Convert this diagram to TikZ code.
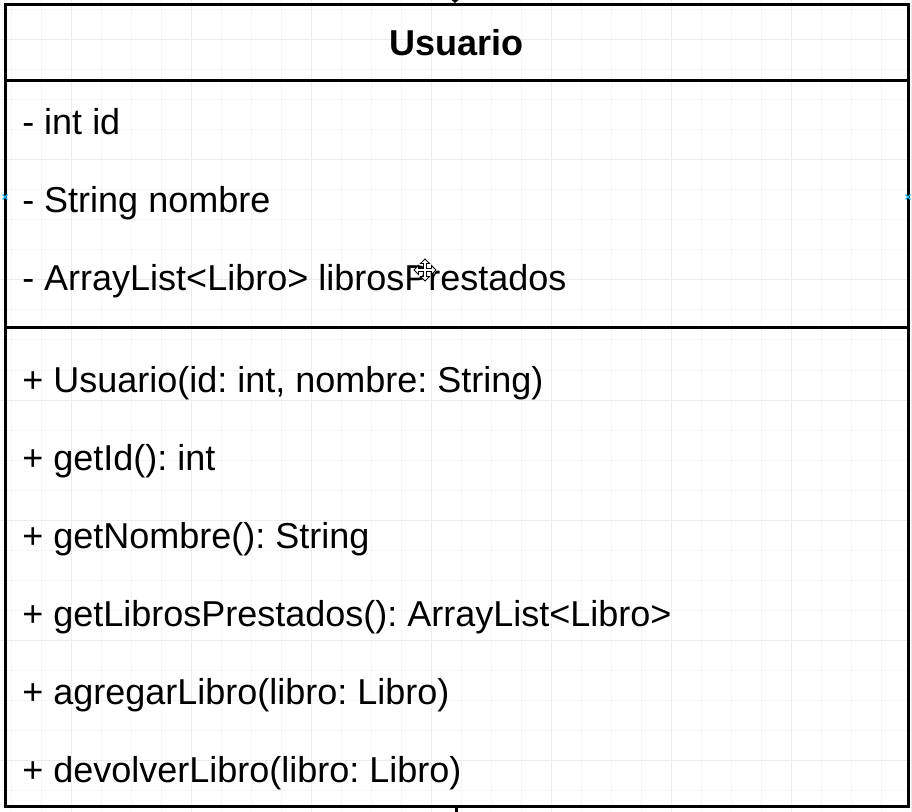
\documentclass[tikz,border=0pt]{standalone}
\usepackage{fontspec}
\setmainfont{Liberation Sans}
\frenchspacing
\begin{document}
\begin{tikzpicture}[x=0.75pt,y=-0.75pt,
  minorgrid/.style={draw=black!4,line width=0.75pt},
  majorgrid/.style={draw=black!8,line width=0.75pt},
  boxline/.style={draw=black,line width=2.25pt},
  member/.style={anchor=base west,inner sep=0pt,font=\fontsize{27}{32}\selectfont},
  title/.style={anchor=base,inner sep=0pt,font=\fontsize{27}{32}\selectfont\bfseries},
  pin/.style={draw={rgb,255:red,41;green,182;blue,242},line width=0.9pt}]
\useasboundingbox (0,0) rectangle (912,812);
\fill[white] (0,0) rectangle (912,812);
% grid
\foreach \gx in {11,41,...,911} \draw[minorgrid] (\gx,0) -- (\gx,812);
\foreach \gy in {10,40,...,810} \draw[minorgrid] (0,\gy) -- (912,\gy);
\foreach \gx in {71,191,...,911} \draw[majorgrid] (\gx,0) -- (\gx,812);
\foreach \gy in {40,160,...,810} \draw[majorgrid] (0,\gy) -- (912,\gy);
% outside connector ends
\coordinate (topend) at (455,3);
\coordinate (botend) at (456,812);
\fill[black] (451.5,0) -- (458.5,0) -- (topend) -- cycle;
% class box
\draw[boxline] (5,4.5) rectangle (908,806.5);
\draw[boxline] (5,81) -- (908,81);
\draw[boxline] (5,327.5) -- (908,327.5);
\coordinate (botmid) at (456,806.5);
\draw[boxline] (botmid) -- (botend);
% title
\node[title] (t) at (456.5,56) {Usuario};
% attributes
\node[member] (a1) at (22,135) {- int id};
\node[member] (a2) at (22,213) {- String nombre};
\node[member] (a3) at (22,291) {- ArrayList<Libro> librosPrestados};
% methods
\node[member] (m1) at (22,392) {+ Usuario(id: int, nombre: String)};
\node[member] (m2) at (22,470) {+ getId(): int};
\node[member] (m3) at (22,548) {+ getNombre(): String};
\node[member] (m4) at (22,626) {+ getLibrosPrestados(): ArrayList<Libro>};
\node[member] (m5) at (22,704) {+ agregarLibro(libro: Libro)};
\node[member] (m6) at (22,782) {+ devolverLibro(libro: Libro)};
% connection markers
\foreach \px in {5,908} {
  \draw[pin] (\px-2.5,194.5) -- (\px+2.5,199.5);
  \draw[pin] (\px-2.5,199.5) -- (\px+2.5,194.5);
}
% move cursor
\begin{scope}[shift={(425,270)}]
\filldraw[fill=white,draw=black,line width=0.6pt,line join=miter]
 (0,-11) -- (4.5,-6.5) -- (1.5,-6.5) -- (1.5,-1.5) -- (6.5,-1.5) -- (6.5,-4.5) -- (11,0)
 -- (6.5,4.5) -- (6.5,1.5) -- (1.5,1.5) -- (1.5,6.5) -- (4.5,6.5) -- (0,11)
 -- (-4.5,6.5) -- (-1.5,6.5) -- (-1.5,1.5) -- (-6.5,1.5) -- (-6.5,4.5) -- (-11,0)
 -- (-6.5,-4.5) -- (-6.5,-1.5) -- (-1.5,-1.5) -- (-1.5,-6.5) -- (-4.5,-6.5) -- cycle;
\end{scope}
\end{tikzpicture}
\end{document}
